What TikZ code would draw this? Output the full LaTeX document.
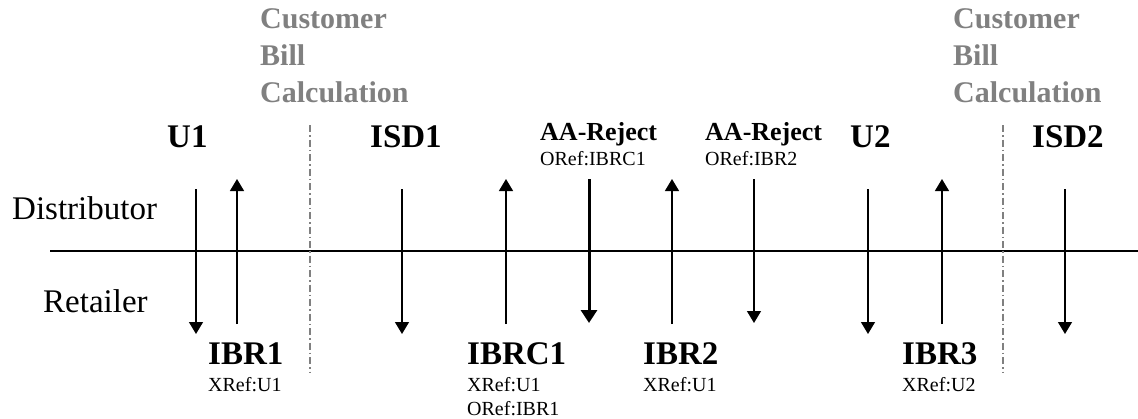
\documentclass[tikz,border=0pt]{standalone}
\usepackage{fontspec}
\setmainfont{Liberation Serif}
\usetikzlibrary{arrows.meta}
\definecolor{cbgray}{RGB}{128,128,128}
\tikzset{
  msgbig/.style={anchor=base west, inner sep=0pt, font=\fontsize{33}{37}\selectfont\bfseries},
  rejlbl/.style={anchor=base west, inner sep=0pt, font=\fontsize{26}{30}\selectfont\bfseries},
  reflbl/.style={anchor=base west, inner sep=0pt, font=\fontsize{20}{24}\selectfont},
  rolelbl/.style={anchor=base west, inner sep=0pt, font=\fontsize{33}{37}\selectfont},
  billlbl/.style={anchor=north west, inner sep=0pt, align=left, text=cbgray, font=\fontsize{30}{37}\selectfont\bfseries},
  msgarrow/.style={line width=1.3pt, -{Triangle[width=14pt,length=12pt]}},
  thickarrow/.style={line width=3pt, -{Triangle[width=16pt,length=13pt]}},
  sepline/.style={cbgray, line width=1.3pt, dash pattern=on 7pt off 3pt on 1.5pt off 3pt},
  axisline/.style={line width=1.3pt}
}
\begin{document}
\begin{tikzpicture}[x=1pt,y=-1pt]
\useasboundingbox (0,0) rectangle (1138,418);

% role labels and axis
\node[rolelbl] (dist) at (12,219) {Distributor};
\node[rolelbl] (ret) at (43,312) {Retailer};
\coordinate (axL) at (50,251);
\coordinate (axR) at (1138,251);
\draw[axisline] (axL) -- (axR);

% billing blocks
\node[billlbl] (bill1) at (260,8) {Customer\\Bill\\Calculation};
\node[billlbl] (bill2) at (953,8) {Customer\\Bill\\Calculation};
\coordinate (s1t) at (310,125); \coordinate (s1b) at (310,372);
\coordinate (s2t) at (1003,125); \coordinate (s2b) at (1003,372);
\draw[sepline] (s1t) -- (s1b);
\draw[sepline] (s2t) -- (s2b);

% top labels
\node[msgbig] (u1) at (167,147) {U1};
\node[msgbig] (isd1) at (370,147) {ISD1};
\node[rejlbl] (rej1) at (540,140) {AA-Reject};
\node[reflbl] (rej1r) at (540,165) {ORef:IBRC1};
\node[rejlbl] (rej2) at (705,140) {AA-Reject};
\node[reflbl] (rej2r) at (705,165) {ORef:IBR2};
\node[msgbig] (u2) at (850,147) {U2};
\node[msgbig] (isd2) at (1032,147) {ISD2};

% bottom labels
\node[msgbig] (ibr1) at (208,364) {IBR1};
\node[reflbl] (ibr1r) at (208,391) {XRef:U1};
\node[msgbig] (ibrc1) at (467,364) {IBRC1};
\node[reflbl] (ibrc1r) at (467,391) {XRef:U1};
\node[reflbl] (ibrc1o) at (467,415) {ORef:IBR1};
\node[msgbig] (ibr2) at (643,364) {IBR2};
\node[reflbl] (ibr2r) at (643,391) {XRef:U1};
\node[msgbig] (ibr3) at (902,364) {IBR3};
\node[reflbl] (ibr3r) at (902,391) {XRef:U2};

% arrow end points
\coordinate (a1t) at (196,189); \coordinate (a1b) at (196,334);
\coordinate (a2t) at (237,179); \coordinate (a2b) at (237,324);
\coordinate (a3t) at (402,189); \coordinate (a3b) at (402,334);
\coordinate (a4t) at (506,179); \coordinate (a4b) at (506,324);
\coordinate (a5t) at (589,179); \coordinate (a5b) at (589,323);
\coordinate (a6t) at (672,179); \coordinate (a6b) at (672,324);
\coordinate (a7t) at (754,179); \coordinate (a7b) at (754,323);
\coordinate (a8t) at (868,189); \coordinate (a8b) at (868,334);
\coordinate (a9t) at (942,179); \coordinate (a9b) at (942,324);
\coordinate (a10t) at (1065,189); \coordinate (a10b) at (1065,334);

\draw[msgarrow] (a1t) -- (a1b);
\draw[msgarrow] (a2b) -- (a2t);
\draw[msgarrow] (a3t) -- (a3b);
\draw[msgarrow] (a4b) -- (a4t);
\draw[thickarrow] (a5t) -- (a5b);
\draw[msgarrow] (a6b) -- (a6t);
\draw[msgarrow] (a7t) -- (a7b);
\draw[msgarrow] (a8t) -- (a8b);
\draw[msgarrow] (a9b) -- (a9t);
\draw[msgarrow] (a10t) -- (a10b);
\end{tikzpicture}
\end{document}
